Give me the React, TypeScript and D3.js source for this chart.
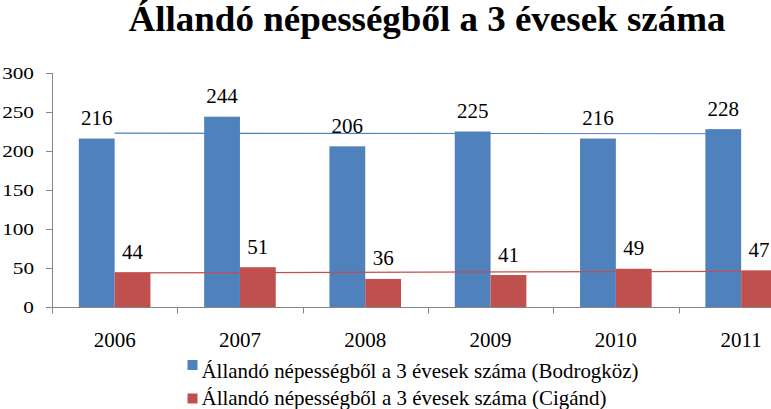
import React from "react";
import * as d3 from "d3";

const years = ["2006", "2007", "2008", "2009", "2010", "2011"];
const bodrogkoz = [216, 244, 206, 225, 216, 228];
const cigand = [44, 51, 36, 41, 49, 47];
const yTicks = [0, 50, 100, 150, 200, 250, 300];
const seriesNames = [
  "Állandó népességből a 3 évesek száma (Bodrogköz)",
  "Állandó népességből a 3 évesek száma (Cigánd)",
];
const title = "Állandó népességből a 3 évesek száma";
const colors = ["#4F81BD", "#C0504D"];

const W = 771;
const H = 409;
const FONT = "'Liberation Serif', 'Times New Roman', serif";

function regression(vals: number[]) {
  const n = vals.length;
  const xs = vals.map((_, i) => i + 1);
  const mx = d3.mean(xs)!;
  const my = d3.mean(vals)!;
  let sxy = 0,
    sxx = 0;
  xs.forEach((x, i) => {
    sxy += (x - mx) * (vals[i] - my);
    sxx += (x - mx) * (x - mx);
  });
  const b = sxy / sxx;
  const a = my - b * mx;
  return { start: a + b * 1, end: a + b * n };
}

export default function App() {
  const x = d3.scaleBand<string>().domain(years).range([52, 52 + 6 * 125.3]).padding(0);
  const x1 = d3
    .scaleBand<string>()
    .domain(["b", "r"])
    .range([0, x.bandwidth()])
    .paddingInner(0)
    .paddingOuter(0.75);
  const y = d3.scaleLinear().domain([0, 300]).range([307, 73]);
  const series = [bodrogkoz, cigand];
  const keys = ["b", "r"];
  const cx = (yr: string) => x(yr)! + x.bandwidth() / 2;

  return (
    <svg
      width={W}
      height={H}
      style={{ position: "absolute", left: 0, top: 0, background: "#fff" }}
      fontFamily={FONT}
    >
      <rect width={W} height={H} fill="#fff" />
      <text
        x={427}
        y={31}
        textAnchor="middle"
        fontSize={36}
        fontWeight="bold"
        textLength={597}
        lengthAdjust="spacingAndGlyphs"
      >
        {title}
      </text>

      {/* y axis */}
      <line x1={52.5} x2={52.5} y1={y(300)} y2={y(0)} stroke="#868686" />
      {yTicks.map((t) => (
        <g key={t}>
          <line x1={46} x2={52.5} y1={Math.round(y(t)) + 0.5} y2={Math.round(y(t)) + 0.5} stroke="#868686" />
          <g transform={`translate(34, ${y(t) + 6}) scale(1.25,1)`}>
            <text textAnchor="end" fontSize={17}>
              {t}
            </text>
          </g>
        </g>
      ))}

      {/* bars */}
      {series.map((vals, si) =>
        vals.map((v, i) => (
          <rect
            key={`${si}-${i}`}
            x={x(years[i])! + x1(keys[si])!}
            y={y(v)}
            width={x1.bandwidth()}
            height={y(0) - y(v)}
            fill={colors[si]}
          />
        ))
      )}

      {/* trendlines */}
      {series.map((vals, si) => {
        const r = regression(vals);
        return (
          <line
            key={`t${si}`}
            x1={cx(years[0])}
            x2={cx(years[years.length - 1])}
            y1={y(r.start)}
            y2={y(r.end)}
            stroke={colors[si]}
            strokeWidth={1.2}
          />
        );
      })}

      {/* data labels */}
      {series.map((vals, si) =>
        vals.map((v, i) => (
          <text
            key={`l${si}-${i}`}
            x={x(years[i])! + x1(keys[si])! + x1.bandwidth() / 2}
            y={y(v) - 13.5}
            textAnchor="middle"
            fontSize={21}
          >
            {v}
          </text>
        ))
      )}

      {/* x axis */}
      <line x1={52} x2={W} y1={307.5} y2={307.5} stroke="#868686" />
      {d3.range(years.length + 1).map((i) => {
        const xx = Math.round(52 + i * x.step()) + 0.5;
        return <line key={`xt${i}`} x1={xx} x2={xx} y1={307.5} y2={313.5} stroke="#868686" />;
      })}
      {years.map((yr) => (
        <text key={yr} x={cx(yr)} y={346.5} textAnchor="middle" fontSize={21}>
          {yr}
        </text>
      ))}

      {/* legend */}
      {seriesNames.map((name, i) => (
        <g key={name}>
          <rect x={187.5} y={i === 0 ? 360 : 393.5} width={10} height={10} fill={colors[i]} />
          <text
            x={201.5}
            y={i === 0 ? 378 : 405}
            fontSize={21}
            textLength={i === 0 ? 437 : 405}
            lengthAdjust="spacingAndGlyphs"
          >
            {name}
          </text>
        </g>
      ))}
    </svg>
  );
}
